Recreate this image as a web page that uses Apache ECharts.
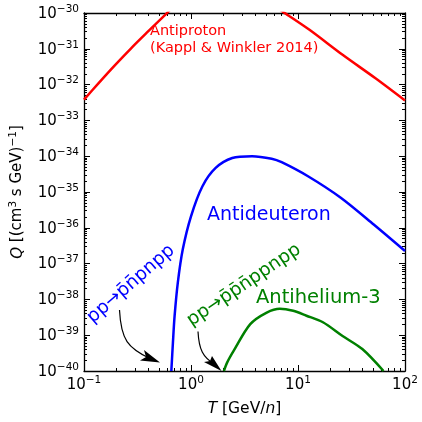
<!DOCTYPE html>
<html>
<head>
<meta charset="utf-8">
<script src="https://cdn.jsdelivr.net/npm/echarts@6/dist/echarts.min.js"></script>
<style>
html,body{margin:0;padding:0;background:#fff;}
#chart{width:422px;height:422px;}
</style>
</head>
<body>
<div id="chart"></div>
<script>
// Kinetic energy per nucleon T [GeV/n] and source term Q [(cm^3 s GeV)^-1]
const antiprotonT = [0.1, 0.137, 0.195, 0.277, 0.395, 0.583, 0.79, 1.26, 2.0, 3.16, 5.0, 7.8, 12.8, 26.1, 53, 100];
const antiprotonQ = [3.8e-33, 1.1e-32, 3.5e-32, 1.05e-31, 3.0e-31, 9.3e-31, 2.3e-30, 5.5e-30, 6.3e-30, 4.5e-30, 2.2e-30, 9.3e-31, 3.4e-31, 6.8e-32, 1.5e-32, 3.6e-33];

const antideuteronT = [0.655, 0.678, 0.703, 0.753, 0.838, 1.0, 1.28, 1.70, 2.43, 3.72, 5.68, 7.03, 12.4, 25.1, 51, 100];
const antideuteronQ = [1e-40, 6.3e-40, 3.5e-39, 2.95e-38, 2.5e-37, 2.1e-36, 1.45e-35, 4.7e-35, 8.9e-35, 1.0e-34, 8.5e-35, 6.8e-35, 2.75e-35, 6.9e-36, 1.23e-36, 2.24e-37];

const antiheliumT = [2.03, 2.18, 2.51, 3.58, 5.1, 6.78, 9.02, 12.0, 17.1, 26.1, 39.9, 63];
const antiheliumQ = [1e-40, 1.74e-40, 3.7e-40, 2.04e-39, 4.3e-39, 5.5e-39, 4.8e-39, 3.5e-39, 2.3e-39, 9.5e-40, 4.1e-40, 1e-40];

const xMajorTicks = [0.1, 1, 10, 100];
const yMajorExponents = [-40, -39, -38, -37, -36, -35, -34, -33, -32, -31, -30];

const xMinorTicks = [];
for (let i = 0; i < xMajorTicks.length - 1; i++) for (let k = 2; k <= 9; k++) xMinorTicks.push(xMajorTicks[i] * k);
const yMinorTicks = [];
for (let i = 0; i < yMajorExponents.length - 1; i++) for (let k = 2; k <= 9; k++) yMinorTicks.push(yMajorExponents[i] + Math.log10(k));

// the y scale is logarithmic: the value axis runs over log10(Q)
function pairs(xs, ys) { return xs.map((x, i) => [x, Math.log10(ys[i])]); }

const FONT = 'DejaVu Sans';
function expLabel(e) {
  const s = e < 0 ? '\u2212' + (-e) : String(e);
  return '{b|10}{s|' + s + '}';
}
const richTick = {
  b: { fontSize: 15, fontFamily: FONT, color: '#000', verticalAlign: 'bottom', lineHeight: 17 },
  s: { fontSize: 10.5, fontFamily: FONT, color: '#000', verticalAlign: 'bottom', padding: [0, 0, 7, 0], lineHeight: 12 }
};
const lineStyleAxis = { color: '#000', width: 1.3 };

function mkX(pos, major, showLabel, showLine) {
  return {
    type: 'log', min: 0.1, max: 100, position: pos, logBase: 10,
    axisLine: { show: showLine, onZero: false, lineStyle: lineStyleAxis },
    axisTick: { show: true, inside: true, length: major ? 6 : 3, lineStyle: { color: '#000', width: 1 },
      customValues: major ? xMajorTicks : xMinorTicks },
    axisLabel: { show: showLabel, customValues: xMajorTicks, formatter: v => expLabel(Math.round(Math.log10(v))), rich: richTick, margin: 5 },
    splitLine: { show: false }, minorTick: { show: false }
  };
}
function mkY(pos, major, showLabel, showLine) {
  return {
    type: 'value', min: -40, max: -30, interval: 1, position: pos,
    axisLine: { show: showLine, onZero: false, lineStyle: lineStyleAxis },
    axisTick: { show: true, inside: true, length: major ? 6 : 3, lineStyle: { color: '#000', width: 1 },
      customValues: major ? yMajorExponents : yMinorTicks },
    axisLabel: { show: showLabel, customValues: yMajorExponents, formatter: v => expLabel(Math.round(v)), rich: richTick, margin: 5 },
    splitLine: { show: false }, minorTick: { show: false }
  };
}

const xAxes = [mkX('bottom', true, true, true), mkX('bottom', false, false, false), mkX('top', true, false, true), mkX('top', false, false, false)];
xAxes[0].name = '{i|T} [GeV/{i|n}]';
xAxes[0].nameLocation = 'middle';
xAxes[0].nameGap = 30;
xAxes[0].nameTextStyle = { fontSize: 15.5, fontFamily: FONT, color: '#000',
  rich: { i: { fontSize: 15.5, fontFamily: FONT, fontStyle: 'italic', color: '#000' } } };

const yAxes = [mkY('left', true, true, true), mkY('left', false, false, false), mkY('right', true, false, true), mkY('right', false, false, false)];
yAxes[0].name = '{i|Q} [(cm{s|3} s GeV){s|\u22121}]';
yAxes[0].nameLocation = 'middle';
yAxes[0].nameGap = 58;
yAxes[0].nameTextStyle = { fontSize: 15, fontFamily: FONT, color: '#000',
  rich: {
    i: { fontSize: 15, fontFamily: FONT, fontStyle: 'italic', color: '#000', verticalAlign: 'bottom', lineHeight: 17 },
    s: { fontSize: 10.5, fontFamily: FONT, color: '#000', verticalAlign: 'bottom', padding: [0, 0, 7, 0], lineHeight: 12 }
  } };

const chart = echarts.init(document.getElementById('chart'), null, { renderer: 'canvas' });
chart.setOption({
  animation: false,
  backgroundColor: '#fff',
  grid: { left: 80, top: 13, width: 325, height: 359, containLabel: false },
  xAxis: xAxes,
  yAxis: yAxes,
  series: [
    { type: 'line', name: 'Antiproton', data: pairs(antiprotonT, antiprotonQ), showSymbol: false, smooth: 0.3, clip: true,
      lineStyle: { color: '#ff0000', width: 2.5 }, xAxisIndex: 0, yAxisIndex: 0 },
    { type: 'line', name: 'Antideuteron', data: pairs(antideuteronT, antideuteronQ), showSymbol: false, smooth: 0.3, clip: true,
      lineStyle: { color: '#0000ff', width: 2.5 }, xAxisIndex: 0, yAxisIndex: 0 },
    { type: 'line', name: 'Antihelium-3', data: pairs(antiheliumT, antiheliumQ), showSymbol: false, smooth: 0.3, clip: true,
      lineStyle: { color: '#008000', width: 2.5 }, xAxisIndex: 0, yAxisIndex: 0 }
  ],
  graphic: [
    { type: 'text', left: 150, top: 23, style: { text: 'Antiproton\n(Kappl & Winkler 2014)', fill: '#ff0000', font: '14.5px "DejaVu Sans"', lineHeight: 17 } },
    { type: 'text', x: 207, y: 215, style: { text: 'Antideuteron', fill: '#0000ff', font: '19px "DejaVu Sans"', textVerticalAlign: 'middle' } },
    { type: 'text', x: 256, y: 298, style: { text: 'Antihelium-3', fill: '#008000', font: '19.5px "DejaVu Sans"', textVerticalAlign: 'middle' } },
    { type: 'text', x: 131, y: 284, rotation: 41 * Math.PI / 180,
      style: { text: 'pp\u2192p\u0304n\u0304pnpp', fill: '#0000ff', font: '18.5px "DejaVu Sans"', textAlign: 'center', textVerticalAlign: 'middle' } },
    { type: 'text', x: 244, y: 285, rotation: 34 * Math.PI / 180,
      style: { text: 'pp\u2192p\u0304p\u0304n\u0304ppnpp', fill: '#008000', font: '18.5px "DejaVu Sans"', textAlign: 'center', textVerticalAlign: 'middle' } },
    { type: 'bezierCurve', shape: { x1: 119.5, y1: 310, cpx1: 121, cpy1: 340, cpx2: 128, cpy2: 348, x2: 150, y2: 358.5 }, style: { stroke: '#000', lineWidth: 1.2, fill: null } },
    { type: 'polygon', shape: { points: [[144, 350], [160, 362.5], [140, 360.5], [146, 357]] }, style: { fill: '#000' } },
    { type: 'bezierCurve', shape: { x1: 198, y1: 331.5, cpx1: 199, cpy1: 350, cpx2: 203, cpy2: 357, x2: 214, y2: 364 }, style: { stroke: '#000', lineWidth: 1.2, fill: null } },
    { type: 'polygon', shape: { points: [[212, 356], [221.5, 371], [204, 362], [210, 361]] }, style: { fill: '#000' } }
  ]
});
</script>
</body>
</html>
